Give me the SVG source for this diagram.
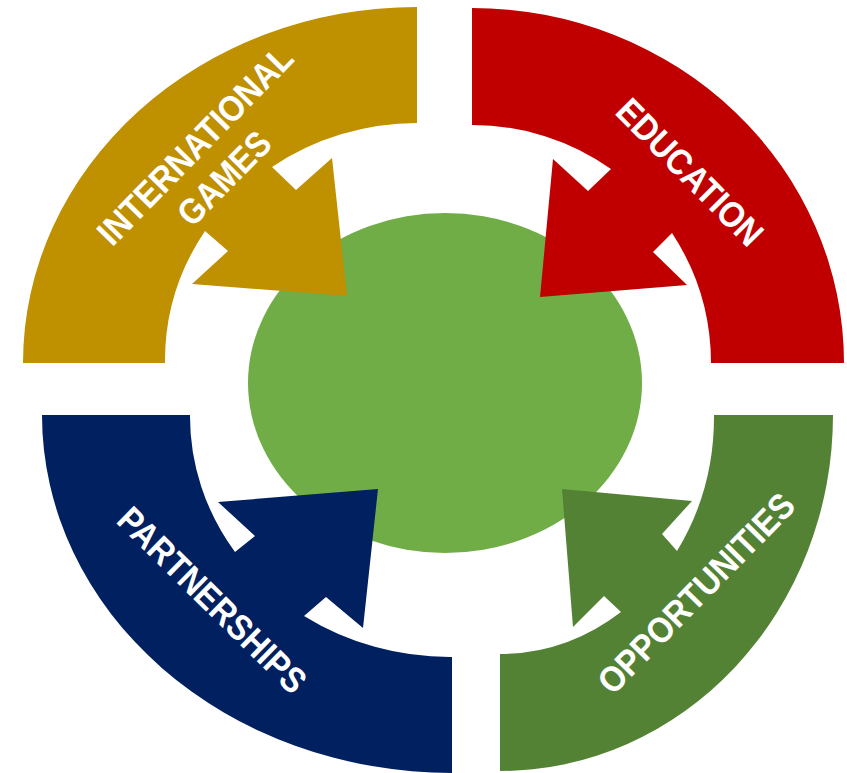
<svg xmlns="http://www.w3.org/2000/svg" width="847" height="773" viewBox="0 0 847 773">
<style>
.lbl{font-family:"Liberation Sans",Arial,sans-serif;font-weight:bold;font-size:36px;fill:#ffffff;text-anchor:middle;}
</style>
<rect width="847" height="773" fill="#ffffff"/>
<g id="center">
<ellipse cx="445" cy="383" rx="197" ry="170" fill="#70AD47"/>
</g>
<g id="connectors"></g>
<g id="international-games">
<path fill="#BF9000" d="M 23,363 A 394,356 0 0 1 417,7 L 417,123 A 252,240 0 0 0 272,167 L 296,190 L 332,158 L 347,296 L 192,284 L 228,251 L 205,231 A 252,240 0 0 0 165,363 Z"/>
<text class="lbl" transform="translate(204,154) rotate(-45.6)" textLength="262" lengthAdjust="spacingAndGlyphs">INTERNATIONAL</text>
<text class="lbl" transform="translate(233,187) rotate(-45.4)" textLength="116" lengthAdjust="spacingAndGlyphs">GAMES</text>
</g>
<g id="education">
<path fill="#C00000" d="M 472,8 A 372,355 0 0 1 844,363 L 711,363 A 239,238 0 0 0 672,233 L 653,252 L 687,285 L 540,297 L 553,159 L 588,191 L 611,169 A 239,238 0 0 0 472,125 Z"/>
<text class="lbl" transform="translate(681,181) rotate(45.2)" textLength="191" lengthAdjust="spacingAndGlyphs">EDUCATION</text>
</g>
<g id="partnerships">
<path fill="#002060" d="M 42,415 L 190,415 A 262,242 0 0 0 235,552 L 255,536 L 218,502 L 378,489 L 363,628 L 326,597 L 304,616 A 262,242 0 0 0 452,657 L 452,773 A 410,358 0 0 1 42,415 Z"/>
<text class="lbl" transform="translate(203.5,609) rotate(44.5)" textLength="248" lengthAdjust="spacingAndGlyphs">PARTNERSHIPS</text>
</g>
<g id="opportunities">
<path fill="#548235" d="M 833,415 A 333,356 0 0 1 500,771 L 500,654 A 214,239 0 0 0 621,612 L 604,596 L 573,627 L 562,489 L 692,501 L 662,534 L 677,551 A 214,239 0 0 0 714,415 Z"/>
<text class="lbl" transform="translate(705,602) rotate(-45.6)" textLength="264" lengthAdjust="spacingAndGlyphs">OPPORTUNITIES</text>
</g>
</svg>
